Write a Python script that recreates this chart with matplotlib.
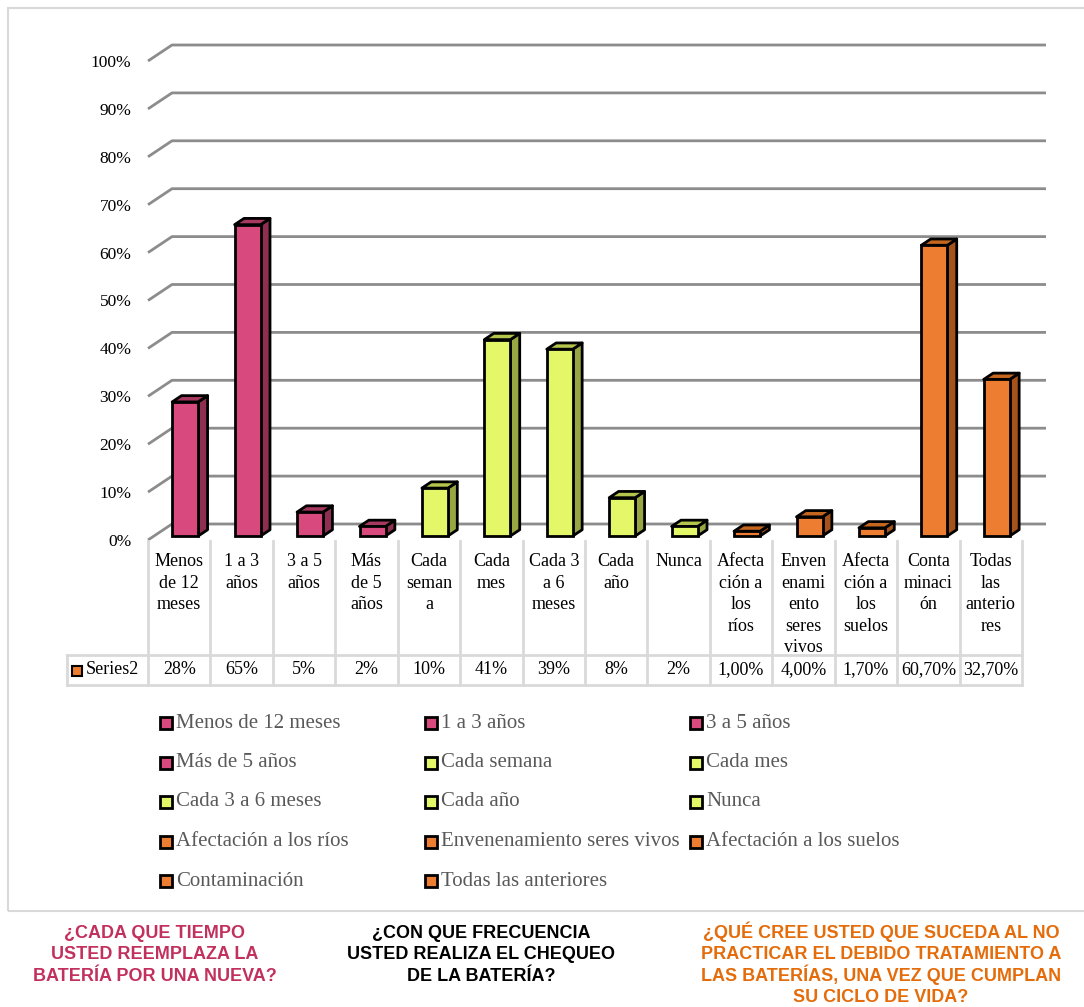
import matplotlib
matplotlib.use('Agg')
import matplotlib.pyplot as plt
from matplotlib.patches import Polygon, Rectangle
from matplotlib.lines import Line2D
from matplotlib import transforms
from matplotlib import font_manager

# ---------------- data ----------------
categories = ["Menos\nde 12\nmeses", "1 a 3\naños", "3 a 5\naños", "Más\nde 5\naños",
              "Cada\nseman\na", "Cada\nmes", "Cada 3\na 6\nmeses", "Cada\naño", "Nunca",
              "Afecta\nción a\nlos\nríos", "Enven\nenami\nento\nseres\nvivos",
              "Afecta\nción a\nlos\nsuelos", "Conta\nminaci\nón", "Todas\nlas\nanterio\nres"]
legend_names = ["Menos de 12 meses", "1 a 3 años", "3 a 5 años", "Más de 5 años",
                "Cada semana", "Cada mes", "Cada 3 a 6 meses", "Cada año", "Nunca",
                "Afectación a los ríos", "Envenenamiento seres vivos",
                "Afectación a los suelos", "Contaminación", "Todas las anteriores"]
values = [28, 65, 5, 2, 10, 41, 39, 8, 2, 1.0, 4.0, 1.7, 60.7, 32.7]
value_labels = ["28%", "65%", "5%", "2%", "10%", "41%", "39%", "8%", "2%",
                "1,00%", "4,00%", "1,70%", "60,70%", "32,70%"]
groups = [0, 0, 0, 0, 1, 1, 1, 1, 1, 2, 2, 2, 2, 2]
y_ticks = [0, 10, 20, 30, 40, 50, 60, 70, 80, 90, 100]
y_ticklabels = ["0%", "10%", "20%", "30%", "40%", "50%", "60%", "70%", "80%", "90%", "100%"]
series_name = "Series2"
questions = ["¿CADA QUE TIEMPO\nUSTED REEMPLAZA LA\nBATERÍA POR UNA NUEVA?",
             "¿CON QUE FRECUENCIA\nUSTED REALIZA EL CHEQUEO\nDE LA BATERÍA?",
             "¿QUÉ CREE USTED QUE SUCEDA AL NO\nPRACTICAR EL DEBIDO TRATAMIENTO A\nLAS BATERÍAS, UNA VEZ QUE CUMPLAN\nSU CICLO DE VIDA?"]

# ---------------- styles ----------------
front_cols = ["#D84A7E", "#E4F768", "#ED7D31"]
side_cols = ["#8E2F52", "#9AA642", "#A5521B"]
top_cols = ["#A8385F", "#B4C44C", "#C5661F"]
question_cols = ["#C2305E", "#000000", "#E46C0A"]

W, H = 1084, 1007
fig = plt.figure(figsize=(W / 100, H / 100), dpi=100)
fig.patch.set_facecolor("white")

def fx(px):
    return px / W

def fy(py):
    return 1 - py / H

serif = ["Liberation Serif", "DejaVu Serif"]
avail = {f.name for f in font_manager.fontManager.ttflist}
if "Liberation Sans Narrow" in avail:
    qfont, qsize = ["Liberation Sans Narrow", "DejaVu Sans"], 15.5
else:
    qfont, qsize = ["Liberation Sans", "DejaVu Sans"], 13

# outer chart border
fig.patches.append(Rectangle((fx(8), fy(911)), fx(1090) - fx(8), fy(8) - fy(911),
                             transform=fig.transFigure, fill=False,
                             edgecolor="#d9d9d9", lw=1.5, zorder=0))

# ---------------- main plot ----------------
left_px, right_px, base_px, top_px = 148, 1022, 540, 61
ax = fig.add_axes([fx(left_px), fy(base_px), fx(right_px) - fx(left_px), fy(top_px) - fy(base_px)])
n = len(values)
ax.set_xlim(-0.5, n - 0.5)
ax.set_ylim(0, 100)
ax.patch.set_visible(False)
for s in ax.spines.values():
    s.set_visible(False)
ax.set_xticks([])
ax.set_yticks(y_ticks)
ax.set_yticklabels(y_ticklabels, fontfamily=serif, fontsize=12.5, color="#000000")
ax.tick_params(axis="y", length=0, pad=12)

px_per_cat = (right_px - left_px) / n
px_per_pct = (base_px - top_px) / 100.0
Dx = 24 / px_per_cat      # wall depth in category units
Dy = 16 / px_per_pct      # wall depth in percent units

# gridlines (side wall diagonal + back wall horizontal)
for v in y_ticks:
    ax.plot([-0.5, -0.5 + Dx, n - 0.5 + Dx], [v, v + Dy, v + Dy],
            color="#8c8c8c", lw=2, clip_on=False, zorder=1, solid_capstyle="butt")

# 3D-ish bars
f0, f1 = 0.25, 0.64
bw = 26 / px_per_cat
d = (f1 - f0) * Dx
dd = (f1 - f0) * Dy
xs = [i + f0 * Dx for i in range(n)]
b0 = f0 * Dy
for i, (x, v, g) in enumerate(zip(xs, values, groups)):
    xl, xr = x - bw / 2, x + bw / 2
    top = b0 + v
    side = Polygon([(xr, b0), (xr + d, b0 + dd), (xr + d, top + dd), (xr, top)],
                   closed=True, facecolor=side_cols[g], edgecolor="black", lw=2,
                   joinstyle="round", zorder=3, clip_on=False)
    topf = Polygon([(xl, top), (xr, top), (xr + d, top + dd), (xl + d, top + dd)],
                   closed=True, facecolor=top_cols[g], edgecolor="black", lw=2,
                   joinstyle="round", zorder=3, clip_on=False)
    ax.add_patch(side)
    ax.add_patch(topf)
ax.bar(xs, values, width=bw, bottom=b0, color=[front_cols[g] for g in groups],
       edgecolor="black", lw=2, zorder=4, clip_on=False)

# ---------------- data table ----------------
bt = transforms.blended_transform_factory(ax.transData, fig.transFigure)
grid_c = "#d9d9d9"
row_top, row_mid, row_bot, tbl_left = 541, 655, 685, 67
for k in range(n + 1):
    fig.add_artist(Line2D([k - 0.5, k - 0.5], [fy(row_top), fy(row_bot)], transform=bt,
                          color=grid_c, lw=2))
fig.add_artist(Line2D([fx(tbl_left), fx(right_px)], [fy(row_mid), fy(row_mid)],
                      transform=fig.transFigure, color=grid_c, lw=2))
fig.add_artist(Line2D([fx(tbl_left), fx(right_px)], [fy(row_bot), fy(row_bot)],
                      transform=fig.transFigure, color=grid_c, lw=2))
fig.add_artist(Line2D([fx(tbl_left), fx(tbl_left)], [fy(row_mid), fy(row_bot)],
                      transform=fig.transFigure, color=grid_c, lw=2))

cat_base0, cat_step = 566, 21.6
for i, (cat, lab) in enumerate(zip(categories, value_labels)):
    for k, line in enumerate(cat.split("\n")):
        fig.text(i, fy(cat_base0 + k * cat_step), line, transform=bt, ha="center",
                 va="baseline", fontfamily=serif, fontsize=13)
    fig.text(i, fy(670), lab, transform=bt, ha="center", va="center",
             fontfamily=serif, fontsize=13)

fig.patches.append(Rectangle((fx(72), fy(676)), fx(10), fx(10) * W / H,
                             transform=fig.transFigure, facecolor=front_cols[2],
                             edgecolor="black", lw=1.5))
fig.text(fx(86), fy(670), series_name, ha="left", va="center",
         fontfamily=serif, fontsize=13)

# ---------------- legend ----------------
leg_x0, leg_dx, leg_y0, leg_dy = 160, 265, 723, 39.5
for i, (name, g) in enumerate(zip(legend_names, groups)):
    r, c = divmod(i, 3)
    mx = leg_x0 + c * leg_dx
    my = leg_y0 + r * leg_dy
    fig.patches.append(Rectangle((fx(mx), fy(my + 6)), fx(12), fx(12) * W / H,
                                 transform=fig.transFigure, facecolor=front_cols[g],
                                 edgecolor="black", lw=2))
    fig.text(fx(mx + 16), fy(my), name, ha="left", va="center",
             fontfamily=serif, fontsize=15, color="#595959")

# ---------------- questions ----------------
q_base0, q_step = 938, 21.3
for txt, cxp, col in zip(questions, [155, 481, 881], question_cols):
    for k, line in enumerate(txt.split("\n")):
        fig.text(fx(cxp), fy(q_base0 + k * q_step), line, ha="center", va="baseline",
                 fontfamily=qfont, fontweight="bold", fontsize=qsize, color=col)

fig.savefig("out.png", dpi=100)
